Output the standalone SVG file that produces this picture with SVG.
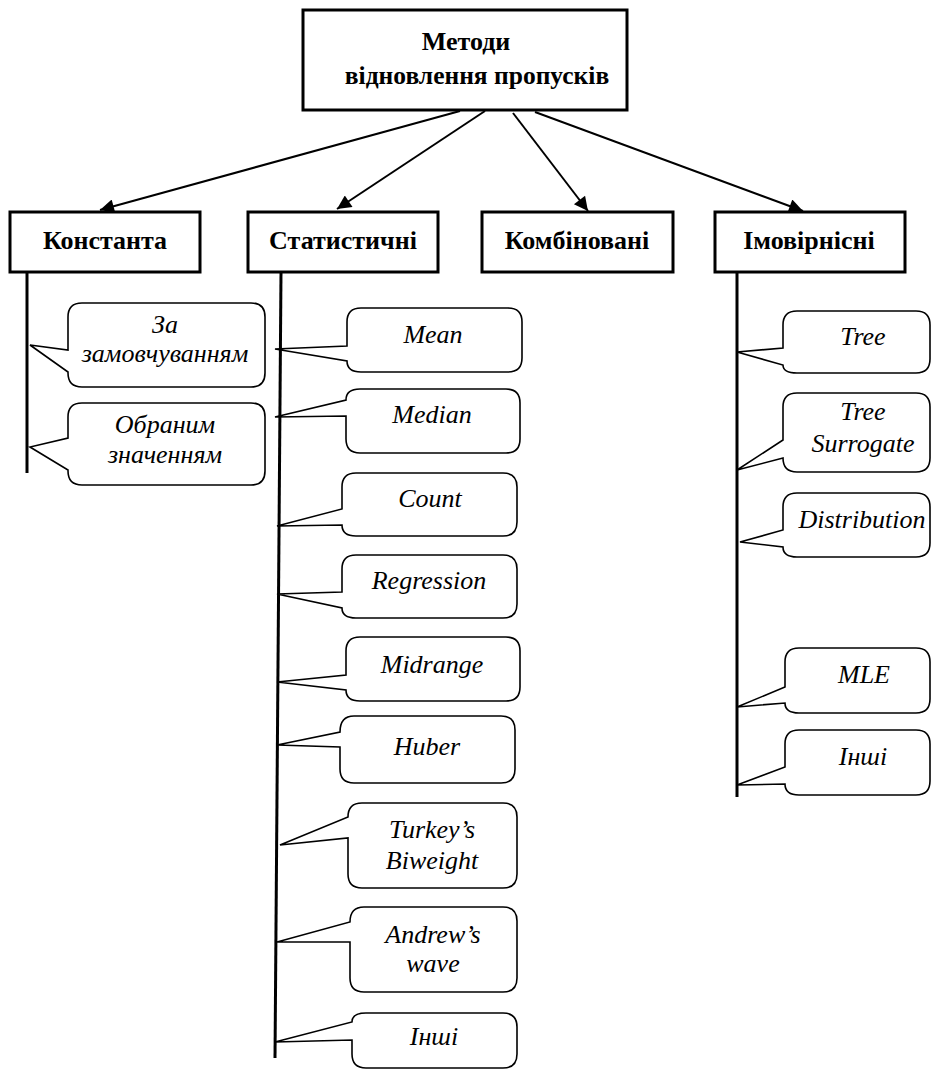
<svg xmlns="http://www.w3.org/2000/svg" width="934" height="1071" viewBox="0 0 934 1071">
<style>
.box{fill:#fff;stroke:#000;stroke-width:3}
.hd{font-family:'Liberation Serif','Times New Roman',serif;font-weight:bold;font-size:26px;text-anchor:middle;fill:#000}
.co{fill:#fff;stroke:#000;stroke-width:1.6;stroke-linejoin:miter}
.it{font-family:'Liberation Serif','Times New Roman',serif;font-style:italic;font-size:26px;text-anchor:middle;fill:#000}
.trunk{stroke:#000;stroke-width:3;fill:none}
.arr{stroke:#000;stroke-width:2;fill:none;marker-end:url(#ah)}
</style>
<defs>
<marker id="ah" viewBox="0 0 10 10" refX="10" refY="5" markerWidth="8" markerHeight="7" markerUnits="strokeWidth" orient="auto">
<path d="M0,0 L10,5 L0,10 Z" fill="#000"/>
</marker>
</defs>
<rect width="934" height="1071" fill="#fff"/>

<g id="connectors">
<line class="arr" x1="460" y1="111" x2="100" y2="210"/>
<line class="arr" x1="485" y1="111" x2="337" y2="209"/>
<line class="arr" x1="513" y1="113" x2="588" y2="211"/>
<line class="arr" x1="535" y1="112" x2="803" y2="211"/>
<line class="trunk" x1="27" y1="272" x2="27" y2="473"/>
<line class="trunk" x1="281" y1="272" x2="275" y2="1058"/>
<line class="trunk" x1="737" y1="272" x2="737" y2="797"/>
</g>

<g id="root">
<rect class="box" x="303" y="10" width="324" height="100"/>
<text class="hd" x="466" y="50">Методи</text>
<text class="hd" x="477" y="84" style="font-size:25.5px">відновлення пропусків</text>
</g>

<g id="cat-const">
<rect class="box" x="10" y="212" width="190" height="60"/>
<text class="hd" x="105" y="249">Константа</text>
</g>
<g id="cat-stat">
<rect class="box" x="248" y="212" width="190" height="60"/>
<text class="hd" x="343" y="249">Статистичні</text>
</g>
<g id="cat-comb">
<rect class="box" x="482" y="212" width="191" height="60"/>
<text class="hd" x="577" y="249">Комбіновані</text>
</g>
<g id="cat-prob">
<rect class="box" x="715" y="212" width="190" height="60"/>
<text class="hd" x="809" y="249">Імовірнісні</text>
</g>

<g id="c-default">
<path class="co" d="M82,303 H251 Q265,303 265,317 V373 Q265,387 251,387 H82 Q68,387 68,373 V372 L30,345 L68,350 V317 Q68,303 82,303 Z"/>
<text class="it" x="165" y="333">За</text>
<text class="it" x="165" y="362">замовчуванням</text>
</g>
<g id="c-chosen">
<path class="co" d="M82,403 H251 Q265,403 265,417 V471 Q265,485 251,485 H82 Q68,485 68,471 V470 L30,447 L68,438 V417 Q68,403 82,403 Z"/>
<text class="it" x="165" y="433">Обраним</text>
<text class="it" x="165" y="463">значенням</text>
</g>

<g id="s-mean">
<path class="co" d="M361,308 H508 Q522,308 522,322 V358 Q522,372 508,372 H361 Q347,372 347,361 L275,349 L347,346 V322 Q347,308 361,308 Z"/>
<text class="it" x="433" y="343">Mean</text>
</g>
<g id="s-median">
<path class="co" d="M360,389 H506 Q520,389 520,403 V439 Q520,453 506,453 H360 Q346,453 346,439 V416 L275,417 L346,400 Q346,389 360,389 Z"/>
<text class="it" x="432" y="423">Median</text>
</g>
<g id="s-count">
<path class="co" d="M356,473 H503 Q517,473 517,487 V522 Q517,536 503,536 H356 Q342,536 342,525 L277,526 L342,509 V487 Q342,473 356,473 Z"/>
<text class="it" x="430" y="507">Count</text>
</g>
<g id="s-regression">
<path class="co" d="M356,555 H503 Q517,555 517,569 V604 Q517,618 503,618 H356 Q342,618 342,608 L277,594 L342,592 V569 Q342,555 356,555 Z"/>
<text class="it" x="429" y="589">Regression</text>
</g>
<g id="s-midrange">
<path class="co" d="M360,637 H506 Q520,637 520,651 V687 Q520,701 506,701 H360 Q346,701 346,690 L277,682 L346,675 V651 Q346,637 360,637 Z"/>
<text class="it" x="432" y="673">Midrange</text>
</g>
<g id="s-huber">
<path class="co" d="M354,716 H501 Q515,716 515,730 V769 Q515,783 501,783 H354 Q340,783 340,769 V747 L277,745 L340,732 Q340,716 354,716 Z"/>
<text class="it" x="427" y="755">Huber</text>
</g>
<g id="s-turkey">
<path class="co" d="M362,803 H503 Q517,803 517,817 V874 Q517,888 503,888 H362 Q348,888 348,874 V838 L280,845 L348,817 Q348,803 362,803 Z"/>
<text class="it" x="432" y="838">Turkey’s</text>
<text class="it" x="432" y="869">Biweight</text>
</g>
<g id="s-andrew">
<path class="co" d="M364,907 H503 Q517,907 517,921 V978 Q517,992 503,992 H364 Q350,992 350,978 V942 L277,942 L350,922 Q350,907 364,907 Z"/>
<text class="it" x="433" y="943">Andrew’s</text>
<text class="it" x="433" y="972">wave</text>
</g>
<g id="s-other">
<path class="co" d="M366,1013 H503 Q517,1013 517,1027 V1054 Q517,1068 503,1068 H366 Q352,1068 352,1054 V1040 L275,1042 L352,1022 Q352,1013 366,1013 Z"/>
<text class="it" x="434" y="1045">Інші</text>
</g>

<g id="p-tree">
<path class="co" d="M797,311 H916 Q930,311 930,325 V359 Q930,373 916,373 H797 Q783,373 783,365 L737,352 L783,348 V325 Q783,311 797,311 Z"/>
<text class="it" x="863" y="345">Tree</text>
</g>
<g id="p-surrogate">
<path class="co" d="M797,393 H916 Q930,393 930,407 V458 Q930,472 916,472 H797 Q783,472 783,458 L737,470 L783,440 V407 Q783,393 797,393 Z"/>
<text class="it" x="863" y="420">Tree</text>
<text class="it" x="863" y="452">Surrogate</text>
</g>
<g id="p-distribution">
<path class="co" d="M797,493 H916 Q930,493 930,507 V543 Q930,557 916,557 H797 Q783,557 783,547 L740,542 L783,530 V507 Q783,493 797,493 Z"/>
<text class="it" x="862" y="528">Distribution</text>
</g>
<g id="p-mle">
<path class="co" d="M799,648 H916 Q930,648 930,662 V699 Q930,713 916,713 H799 Q785,713 785,703 L737,707 L785,687 V662 Q785,648 799,648 Z"/>
<text class="it" x="864" y="683">MLE</text>
</g>
<g id="p-other">
<path class="co" d="M799,730 H916 Q930,730 930,744 V781 Q930,795 916,795 H799 Q785,795 785,784 L737,785 L785,767 V744 Q785,730 799,730 Z"/>
<text class="it" x="863" y="765">Інші</text>
</g>
</svg>
